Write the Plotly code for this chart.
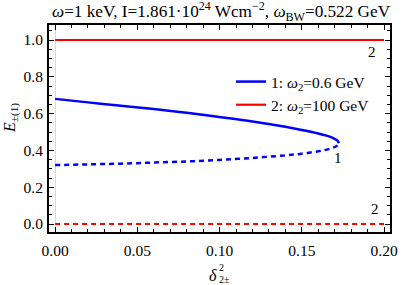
import plotly.graph_objects as go

# ---- data ----
x_branch = [0.0, 0.02, 0.04, 0.06, 0.08, 0.10, 0.12, 0.14, 0.15, 0.16, 0.165, 0.169, 0.1715, 0.1726]
e_upper_1 = [0.680, 0.661, 0.643, 0.625, 0.604, 0.581, 0.557, 0.528, 0.511, 0.492, 0.480, 0.467, 0.454, 0.4395]
e_lower_1 = [0.320, 0.324, 0.328, 0.334, 0.340, 0.348, 0.359, 0.373, 0.382, 0.395, 0.404, 0.415, 0.426, 0.4395]

x_flat = [0.0, 0.2]
e_upper_2 = [1.0, 1.0]
e_lower_2 = [0.0, 0.0]

x_ticks = [0.0, 0.05, 0.10, 0.15, 0.20]
x_ticklabels = ["0.00", "0.05", "0.10", "0.15", "0.20"]
y_ticks = [0.0, 0.2, 0.4, 0.6, 0.8, 1.0]
y_ticklabels = ["0.0", "0.2", "0.4", "0.6", "0.8", "1.0"]

legend_names = ["1: <i>ω</i><sub>2</sub>=0.6 GeV", "2: <i>ω</i><sub>2</sub>=100 GeV"]

BLUE = "#0000FF"
RED = "#FF0000"
FONT = "Liberation Serif, Times New Roman, serif"

fig = go.Figure()
fig.add_trace(go.Scatter(x=x_branch, y=e_upper_1, mode="lines", line=dict(color=BLUE, width=2.5, shape="spline"),
                         name=legend_names[0], showlegend=True))
fig.add_trace(go.Scatter(x=x_branch, y=e_lower_1, mode="lines",
                         line=dict(color=BLUE, width=2.5, dash="5px,4px", shape="spline"), showlegend=False))
fig.add_trace(go.Scatter(x=x_flat, y=e_upper_2, mode="lines", line=dict(color=RED, width=2.2),
                         name=legend_names[1], showlegend=True))
fig.add_trace(go.Scatter(x=x_flat, y=e_lower_2, mode="lines",
                         line=dict(color=RED, width=2.2, dash="5px,4px"), showlegend=False))

axis_common = dict(
    showline=True, linecolor="black", linewidth=2, mirror="ticks",
    ticks="inside", ticklen=5, tickwidth=1, tickcolor="black",
    showgrid=False, automargin=False,
    tickfont=dict(family=FONT, size=15.5, color="black"),
)

fig.update_xaxes(range=[-0.0037, 0.2036], tickvals=x_ticks, ticktext=x_ticklabels, ticklabelstandoff=3,
                 minor=dict(dtick=0.01, ticks="inside", ticklen=3, tickwidth=1, tickcolor="black", showgrid=False),
                 zeroline=True, zerolinecolor="#d9d9d9", zerolinewidth=1, **axis_common)
fig.update_yaxes(range=[-0.0435, 1.0815], tickvals=y_ticks, ticktext=y_ticklabels, ticklabelstandoff=1,
                 minor=dict(dtick=0.05, ticks="inside", ticklen=3, tickwidth=1, tickcolor="black", showgrid=False),
                 zeroline=False, **axis_common)

annotations = [
    # curve labels
    dict(x=0.1722, y=0.36, xref="x", yref="y", text="1", showarrow=False,
         font=dict(family=FONT, size=15, color="black")),
    dict(x=0.1925, y=0.935, xref="x", yref="y", text="2", showarrow=False,
         font=dict(family=FONT, size=15, color="black")),
    dict(x=0.1945, y=0.08, xref="x", yref="y", text="2", showarrow=False,
         font=dict(family=FONT, size=15, color="black")),
    # x axis title (stacked super/subscript)
    dict(x=213, y=285 - 275, xref="paper", yref="paper", text="<i>δ</i>", showarrow=False,
         font=dict(family=FONT, size=16, color="black")),
    dict(x=221, y=285 - 267, xref="paper", yref="paper", text="2", showarrow=False,
         font=dict(family=FONT, size=10, color="black")),
    dict(x=224, y=285 - 279, xref="paper", yref="paper", text="2±", showarrow=False,
         font=dict(family=FONT, size=10, color="black")),
    # y axis title
    dict(x=11, y=285 - 118, xref="paper", yref="paper", text="<i>E</i><sub>±(1)</sub>", showarrow=False,
         textangle=-90, font=dict(family=FONT, size=16, color="black")),
]

# convert the pixel-placed title annotations to paper coordinates
L, R, T, B = 49, 390, 25, 232
W, H = 415, 285
pw, ph = R - L, B - T
for a in annotations:
    if a["xref"] == "paper":
        a["x"] = (a["x"] - L) / pw
        a["y"] = ((a["y"]) - (H - B)) / ph
        a["xanchor"] = "center"
        a["yanchor"] = "middle"

fig.update_layout(
    width=W, height=H,
    margin=dict(l=L, r=W - R, t=T, b=H - B, pad=0, autoexpand=False),
    paper_bgcolor="white", plot_bgcolor="white",
    font=dict(family=FONT, size=16, color="black"),
    title=dict(text="<i>ω</i>=1 keV, I=1.861·10<sup>24</sup> Wcm<sup>−2</sup>, <i>ω</i><sub>BW</sub>=0.522 GeV",
               x=52 / W, xref="container", xanchor="left", y=1 - 11 / H, yref="container", yanchor="middle",
               automargin=False,
               font=dict(family=FONT, size=17.2, color="black")),
    legend=dict(x=(231 - L) / pw, y=(B - 65) / ph, xanchor="left", yanchor="top",
                bgcolor="rgba(0,0,0,0)", borderwidth=0, itemwidth=30,
                font=dict(family=FONT, size=15.5, color="black"), tracegroupgap=0),
    annotations=annotations,
    showlegend=True,
)

fig.write_html("out.html", config={"displayModeBar": False},
               post_script="document.body.style.margin='0';document.body.style.overflow='hidden';")
